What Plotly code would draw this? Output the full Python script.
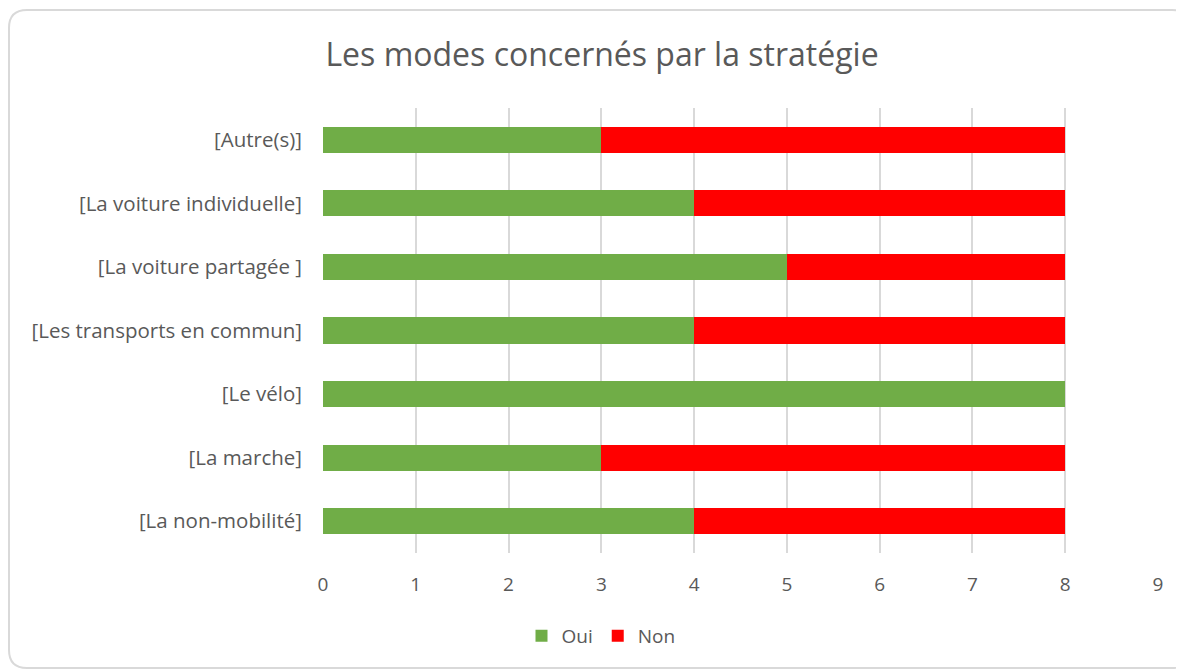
import plotly.graph_objects as go

categories = ["[La non-mobilité]", "[La marche]", "[Le vélo]", "[Les transports en commun]",
              "[La voiture partagée ]", "[La voiture individuelle]", "[Autre(s)]"]
oui = [4, 3, 8, 4, 5, 4, 3]
non = [4, 5, 0, 4, 3, 4, 5]
x_ticks = [0, 1, 2, 3, 4, 5, 6, 7, 8, 9]

# page body has an 8px margin: work in figure coordinates
W, H = 1176, 662
L, R, T, B = 315, 26, 100, 117
pw, ph = W - L - R, H - T - B

def px(x):
    return (x - L) / pw

def py(y):
    return (H - B - y) / ph

fig = go.Figure()
fig.add_trace(go.Bar(y=categories, x=oui, name="Oui", orientation="h",
                     marker=dict(color="#70AD47", line=dict(width=0))))
fig.add_trace(go.Bar(y=categories, x=non, name="Non", orientation="h",
                     marker=dict(color="#FF0000", line=dict(width=0))))

# rounded frame
x0, x1, y0, y1, r = 1, 1182, 2, 660, 18
path = (f"M {px(x0+r)},{py(y0)} L {px(x1-r)},{py(y0)} "
        f"Q {px(x1)},{py(y0)} {px(x1)},{py(y0+r)} L {px(x1)},{py(y1-r)} "
        f"Q {px(x1)},{py(y1)} {px(x1-r)},{py(y1)} L {px(x0+r)},{py(y1)} "
        f"Q {px(x0)},{py(y1)} {px(x0)},{py(y1-r)} L {px(x0)},{py(y0+r)} "
        f"Q {px(x0)},{py(y0)} {px(x0+r)},{py(y0)} Z")

fig.update_layout(
    width=W, height=H,
    margin=dict(l=L, r=R, t=T, b=B),
    barmode="stack", bargap=0.59,
    paper_bgcolor="white", plot_bgcolor="white",
    font=dict(family="Open Sans, Noto Sans, sans-serif", color="#595959", size=19),
    title=dict(text="Les modes concernés par la stratégie", x=px(594), xanchor="center",
               xref="paper", y=1 - 47 / H, yanchor="middle",
               font=dict(size=32, color="#595959")),
    xaxis=dict(range=[0, 9], tickvals=x_ticks, showgrid=True, gridcolor="#D9D9D9",
               gridwidth=1.5, zeroline=False, showline=False, ticks="",
               ticklabelstandoff=18,
               tickfont=dict(size=19, color="#595959"), fixedrange=True),
    yaxis=dict(showgrid=False, zeroline=False, showline=False, ticks="",
               ticklabelstandoff=20, tickfont=dict(size=20.5, color="#595959"),
               categoryorder="array", categoryarray=categories),
    legend=dict(orientation="h", x=px(593), xanchor="center", y=py(628), yanchor="middle",
                font=dict(size=19, color="#595959"), itemwidth=30, traceorder="normal"),
    showlegend=True,
    shapes=[dict(type="path", path=path, xref="paper", yref="paper",
                 line=dict(color="#D9D9D9", width=2), fillcolor="rgba(0,0,0,0)", layer="below")],
)

fig.write_html("out.html")
